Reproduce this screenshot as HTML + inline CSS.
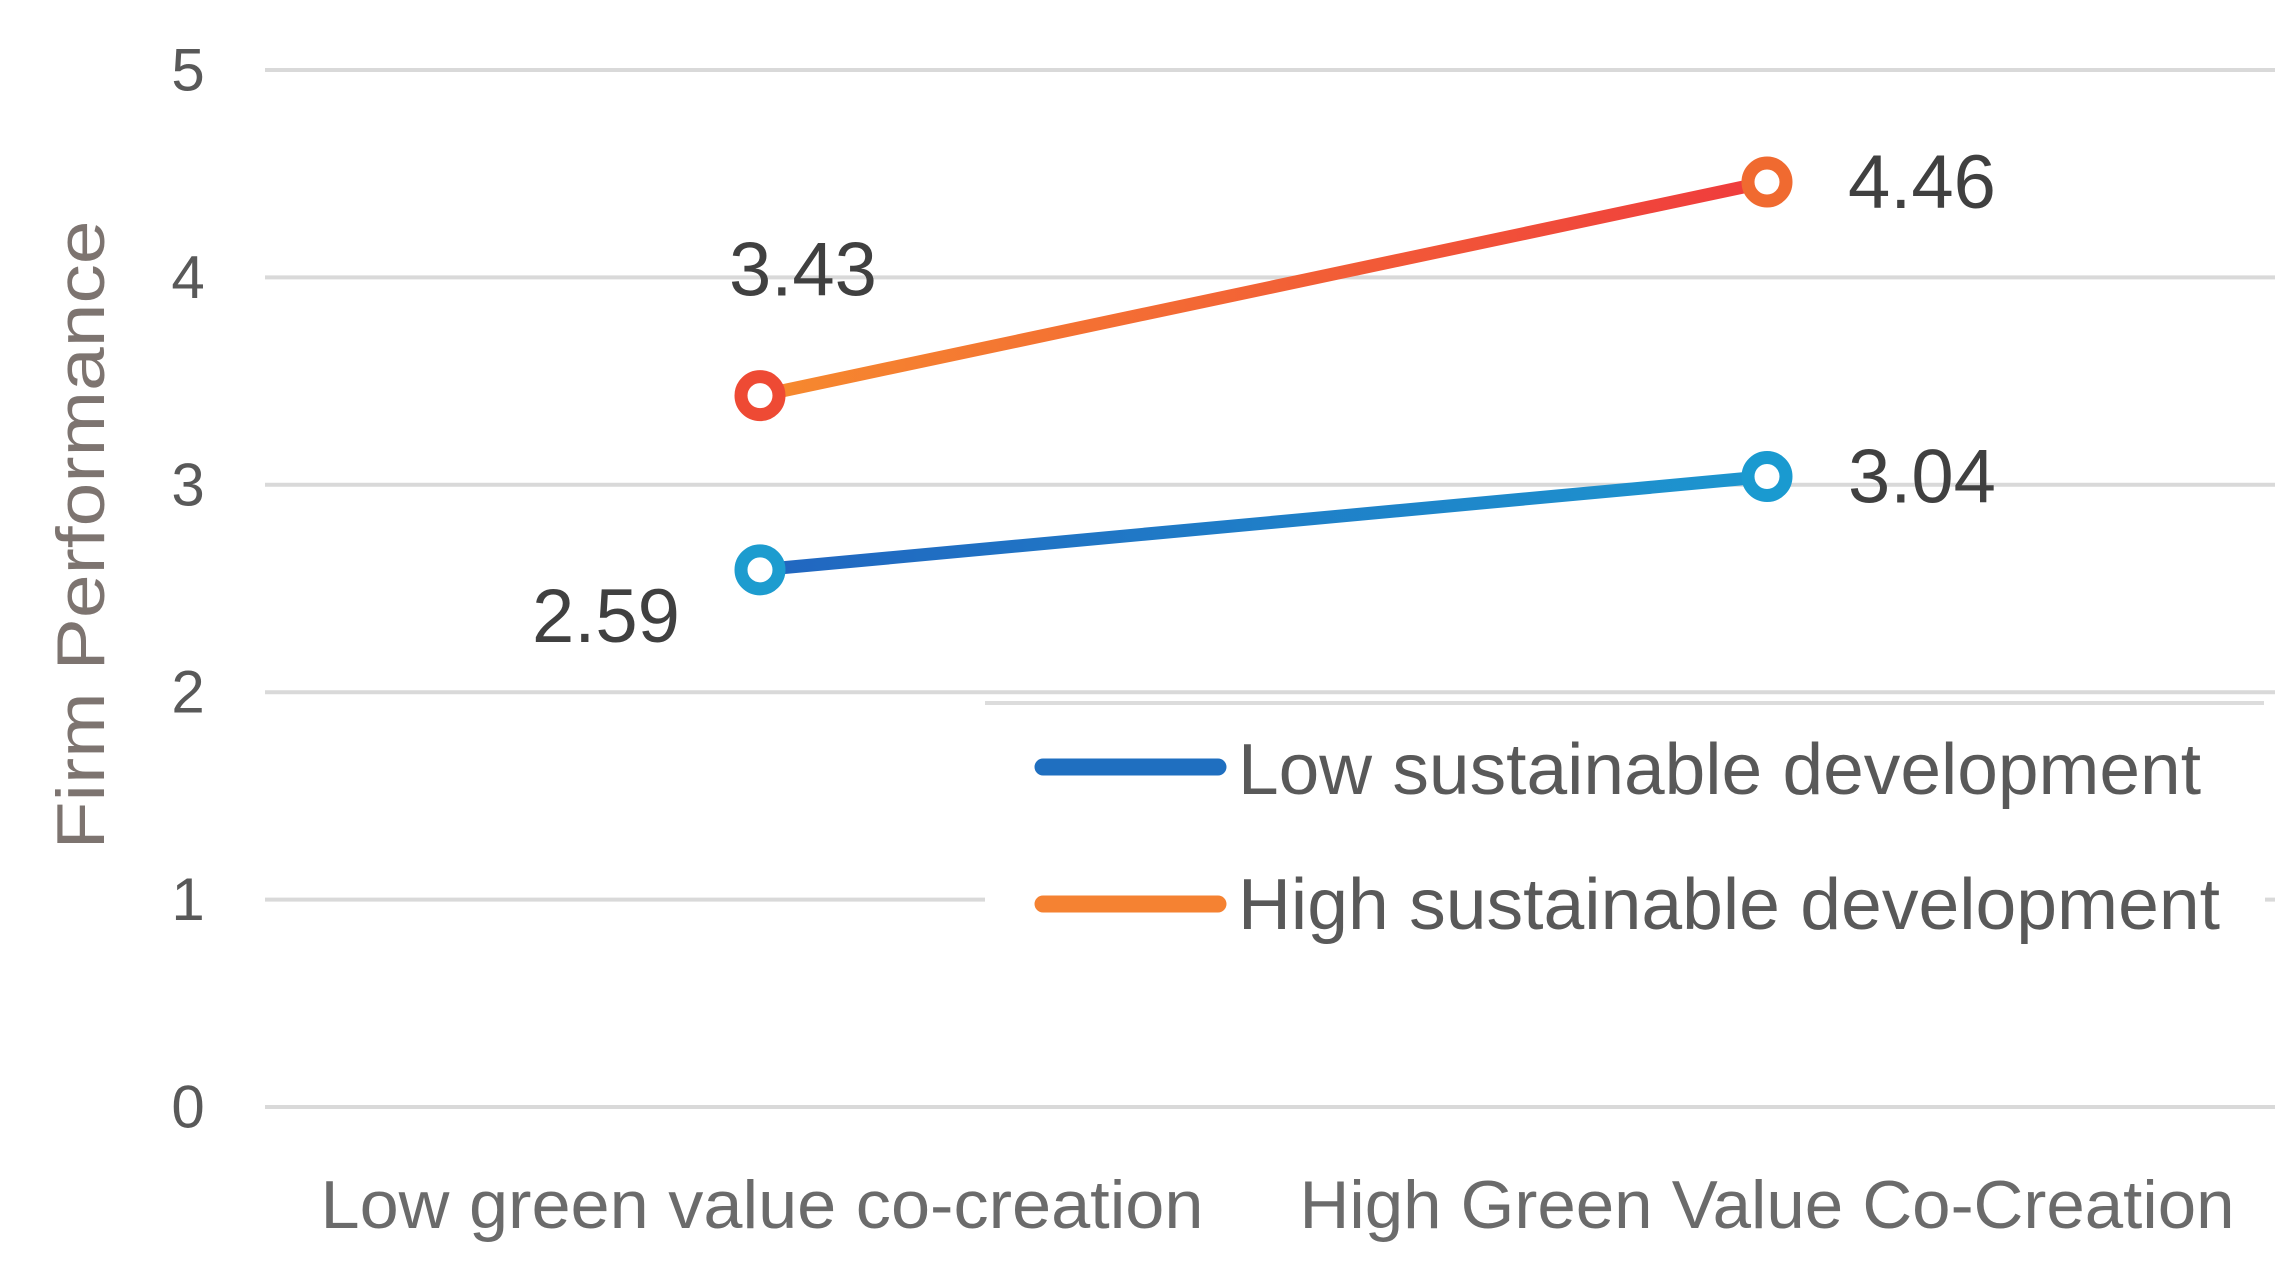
<!DOCTYPE html>
<html><head><meta charset="utf-8"><style>
html,body{margin:0;padding:0;background:#fff;}
svg{display:block;font-family:"Liberation Sans",sans-serif;}
</style></head><body>
<svg id="chart" width="2282" height="1271" viewBox="0 0 2282 1271">
<defs>
<linearGradient id="gOr" x1="0" x2="1" y1="0" y2="0"><stop offset="0" stop-color="#f68a2e"/><stop offset="1" stop-color="#ef3b3d"/></linearGradient>
<linearGradient id="gBl" x1="0" x2="1" y1="0" y2="0"><stop offset="0" stop-color="#2166c0"/><stop offset="1" stop-color="#1d96cf"/></linearGradient>
</defs>
<g id="grid"></g>
<g id="yticks"></g>
<text x="81" y="535" transform="rotate(-90 81 535)" text-anchor="middle" dominant-baseline="central" font-size="68" fill="#7d7470" textLength="629" lengthAdjust="spacingAndGlyphs">Firm Performance</text>
<g id="xlabels"></g>
<rect x="985" y="703" width="1280" height="312" fill="#fff"/>
<line x1="985" y1="703" x2="2264" y2="703" stroke="#dcdcdc" stroke-width="4"/>
<g id="series"></g>
<g>
<g>
<line x1="1043" y1="767" x2="1218" y2="767" stroke="#1f6fc0" stroke-width="17" stroke-linecap="round"/>
<text x="1238" y="794" font-size="72" fill="#595959" textLength="963" lengthAdjust="spacingAndGlyphs">Low sustainable development</text>
</g>
<g>
<line x1="1043" y1="904" x2="1218" y2="904" stroke="#f58232" stroke-width="17" stroke-linecap="round"/>
<text x="1238" y="929" font-size="72" fill="#595959" textLength="982" lengthAdjust="spacingAndGlyphs">High sustainable development</text>
</g>
</g>
</svg>
<script>
const categories = ["Low green value co-creation", "High Green Value Co-Creation"];
const yTicks = [0, 1, 2, 3, 4, 5];
const lowValues = [2.59, 3.04];
const highValues = [3.43, 4.46];
const lowLabels = ["2.59", "3.04"];
const highLabels = ["3.43", "4.46"];

const NS = "http://www.w3.org/2000/svg";
const y0 = 1107, yUnit = 207.4;
function yScale(v){ return y0 - v*yUnit; }
function xScale(i){ return 760 + i*1007; }
function mk(tag, attrs, parent){ const e=document.createElementNS(NS,tag); for(const k in attrs) e.setAttribute(k, attrs[k]); parent.appendChild(e); return e; }

const grid=document.getElementById('grid'), yt=document.getElementById('yticks');
yTicks.forEach(t=>{
  const g=mk('line',{x1:265,x2:2275,y1:yScale(t),y2:yScale(t),stroke:'#d9d9d9','stroke-width':4},grid);
  
  
  const tx=mk('text',{x:188,y:yScale(t),'text-anchor':'middle','dominant-baseline':'central','font-size':60,fill:'#595959'},yt);
  tx.textContent=t;
  
  
});
const xl=document.getElementById('xlabels');
categories.forEach((c,i)=>{
  const t=mk('text',{x:xScale(i)+(i===0?2:0),y:1228,'text-anchor':'middle','font-size':68,fill:'#6b6b6b',textLength:i===0?883:935,lengthAdjust:'spacingAndGlyphs'},xl);
  t.textContent=c;
  
  
});
const sg=document.getElementById('series');
function drawSeries(vals, labels, stroke, c1, c2, name, labelPos){
  const g=mk('g',{},sg);
  
  
  const l=mk('line',{x1:xScale(0),y1:yScale(vals[0]),x2:xScale(1),y2:yScale(vals[1]),stroke:stroke,'stroke-width':13},g);
  
  
  vals.forEach((v,i)=>{
    const c=mk('circle',{cx:xScale(i),cy:yScale(v),r:19,fill:'#fff',stroke:i===0?c1:c2,'stroke-width':13},g);
    
    
    const p=labelPos[i];
    const t=mk('text',{x:xScale(i)+p[0],y:yScale(v)+p[1],'text-anchor':p[2],'font-size':76,fill:'#404040'},g);
    t.textContent=labels[i];
    
    
  });
}
drawSeries(highValues, highLabels, 'url(#gOr)', '#ee4a34', '#f06a30', 'high-sustainable-series', [[43,-100,'middle'],[81,26,'start']]);
drawSeries(lowValues, lowLabels, 'url(#gBl)', '#1d9ccf', '#1a9ad0', 'low-sustainable-series', [[-154,72,'middle'],[81,26,'start']]);
</script>
</body></html>
